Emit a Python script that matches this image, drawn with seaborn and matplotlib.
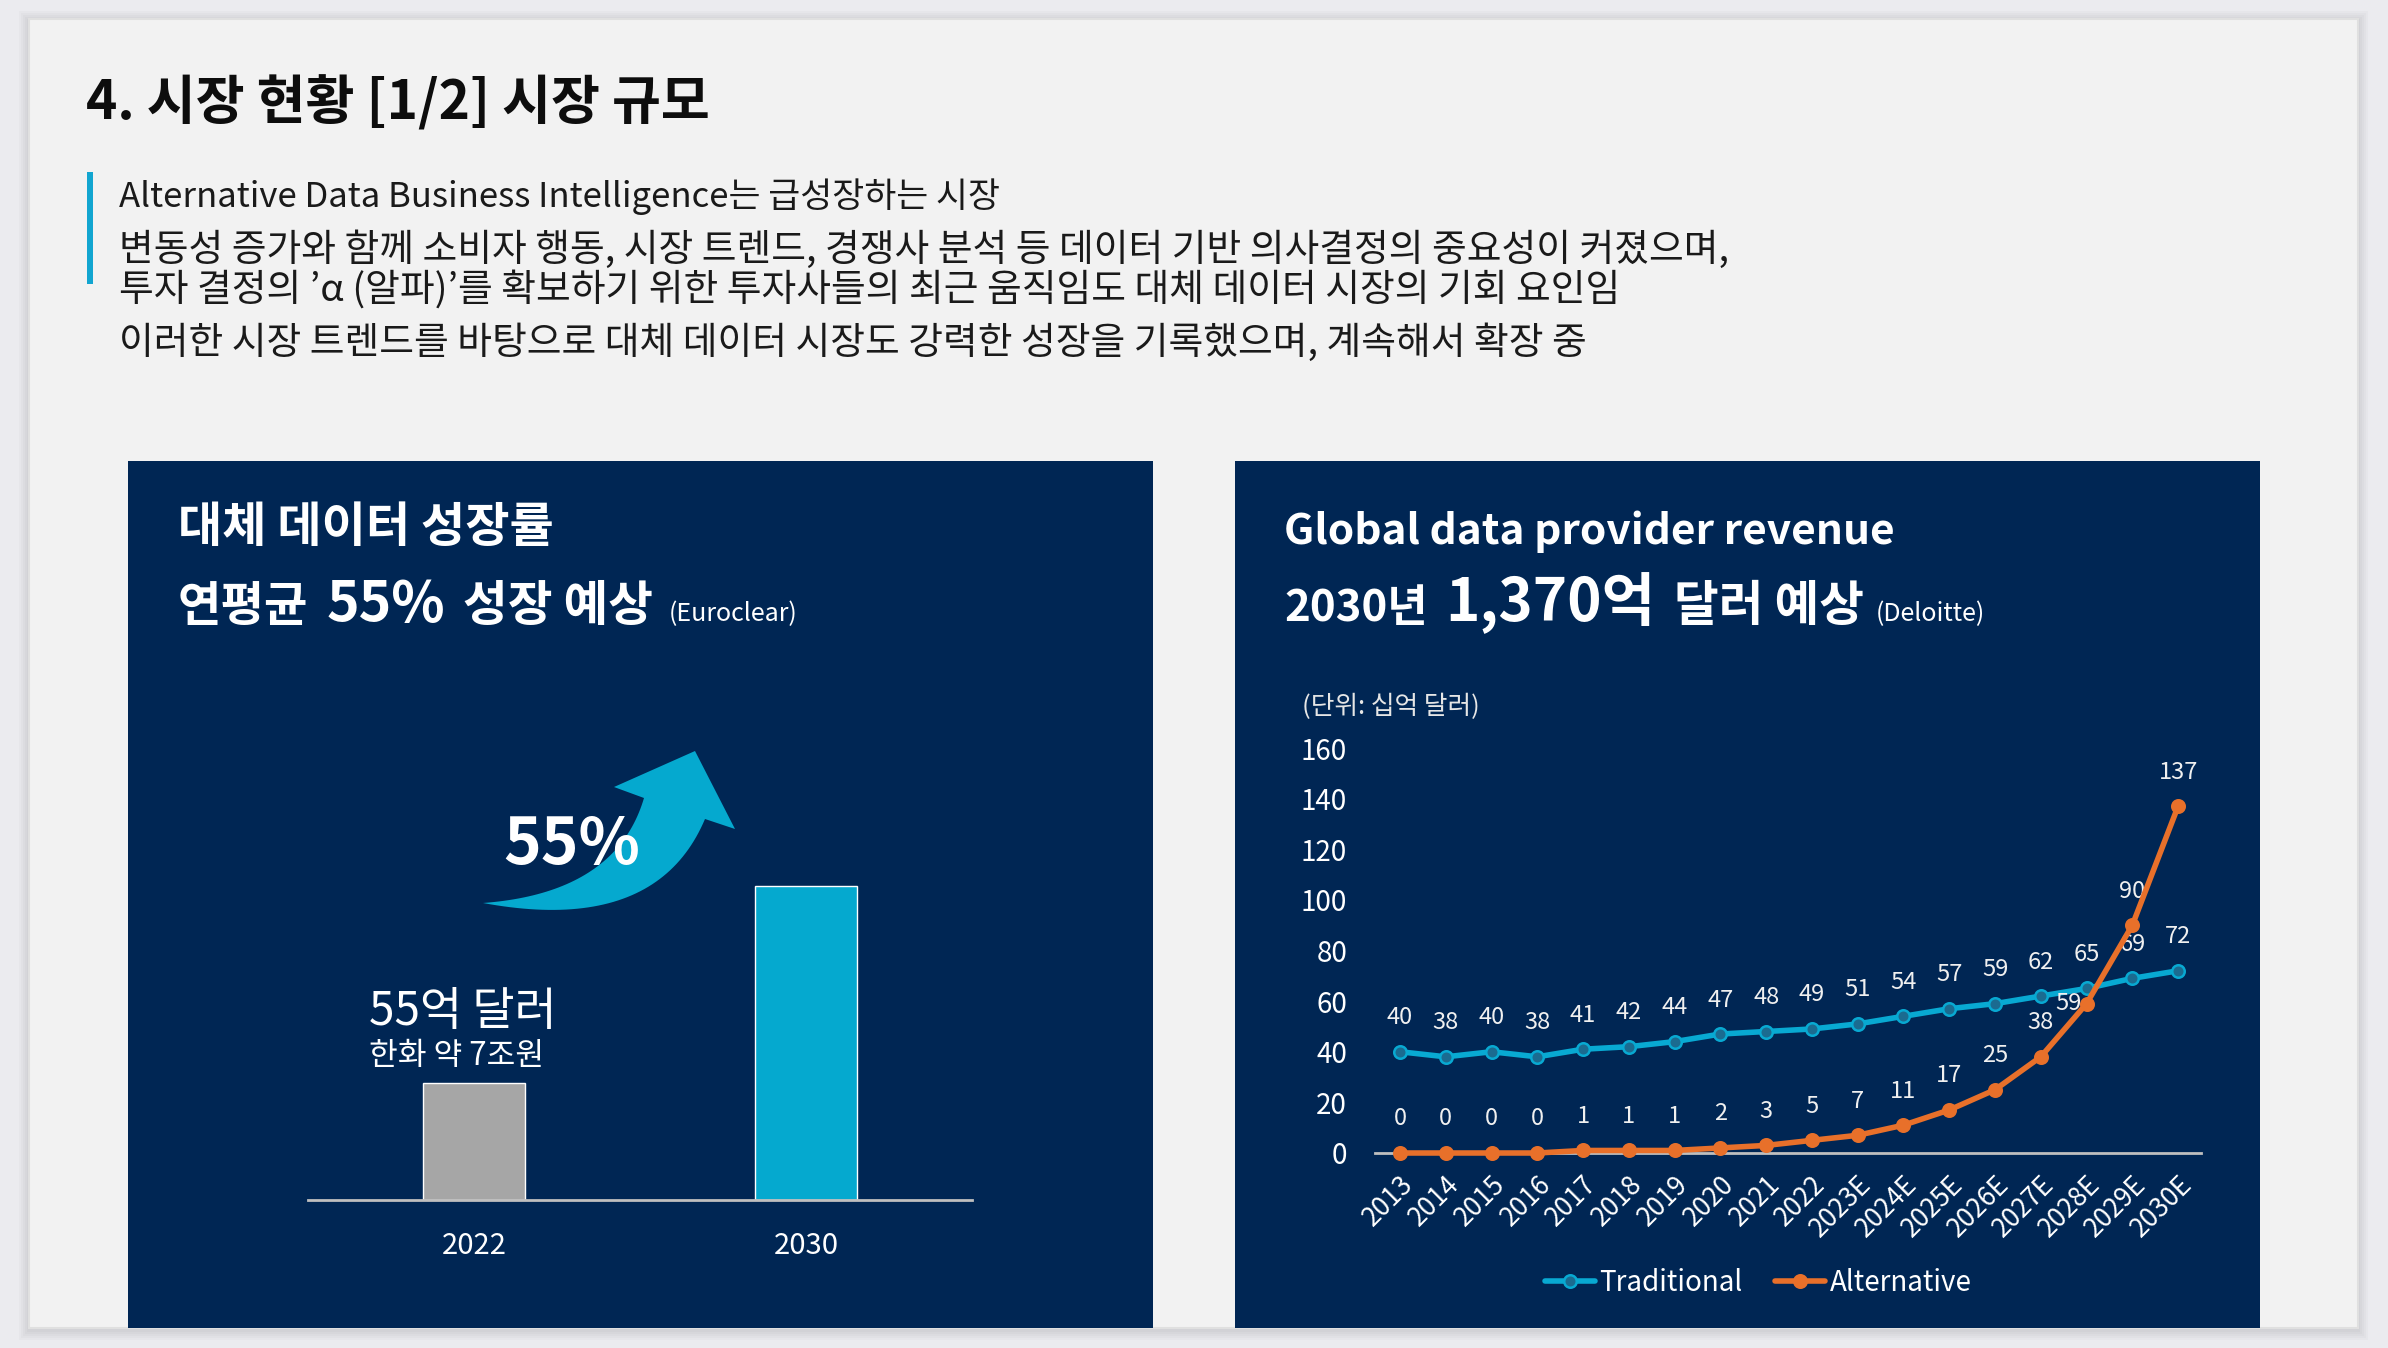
import numpy as np
import pandas as pd
import matplotlib
matplotlib.use("Agg")
import matplotlib.pyplot as plt
import seaborn as sns
from matplotlib.patches import Rectangle, Polygon

# ---------------- data ----------------
bar_years = ["2022", "2030"]
bar_values = [5.5, 14.8]

years = ["2013", "2014", "2015", "2016", "2017", "2018", "2019", "2020", "2021",
         "2022", "2023E", "2024E", "2025E", "2026E", "2027E", "2028E", "2029E", "2030E"]
traditional = [40, 38, 40, 38, 41, 42, 44, 47, 48, 49, 51, 54, 57, 59, 62, 65, 69, 72]
alternative = [0, 0, 0, 0, 1, 1, 1, 2, 3, 5, 7, 11, 17, 25, 38, 59, 90, 137]
y_ticks = [0, 20, 40, 60, 80, 100, 120, 140, 160]

body_lines = [
    "Alternative Data Business Intelligence는 급성장하는 시장",
    "변동성 증가와 함께 소비자 행동, 시장 트렌드, 경쟁사 분석 등 데이터 기반 의사결정의 중요성이 커졌으며,",
    "투자 결정의 ’α (알파)’를 확보하기 위한 투자사들의 최근 움직임도 대체 데이터 시장의 기회 요인임",
    "이러한 시장 트렌드를 바탕으로 대체 데이터 시장도 강력한 성장을 기록했으며, 계속해서 확장 중",
]

# ---------------- style ----------------
sns.set_theme(style="white")
plt.rcParams['font.family'] = ['Noto Sans CJK KR', 'DejaVu Sans']

NAVY = "#002654"
CYAN = "#08a9d2"
ORANGE = "#e8702a"
GRAY_BAR = "#a6a6a6"

W, H = 2388, 1348
fig = plt.figure(figsize=(W / 100, H / 100), dpi=100, facecolor="#ebebef")


def fx(x):
    return x / W


def fy(y):
    return 1 - y / H


def rect(x0, y0, x1, y1, **kw):
    r = Rectangle((fx(x0), fy(y1)), (x1 - x0) / W, (y1 - y0) / H,
                  transform=fig.transFigure, **kw)
    fig.add_artist(r)
    return r


# slide shadow + slide
for d in [2, 4, 6, 8, 10]:
    rect(29 - d, 19 - d + 2, 2358 + d, 1328 + d + 2, facecolor="black",
         edgecolor="none", alpha=0.018, zorder=-10)
rect(29, 19, 2358, 1328, facecolor="#f2f2f2", edgecolor="#e0e0e0", lw=1.5, zorder=-9)

# panels
rect(128, 461, 1153, 1328, facecolor=NAVY, edgecolor="none", zorder=-8)
rect(1235, 461, 2260, 1328, facecolor=NAVY, edgecolor="none", zorder=-8)

# title
fig.text(fx(86), fy(104), "4. 시장 현황 [1/2] 시장 규모", fontsize=38.3,
         weight="bold", va="center", color="#0d0d0d")

# accent bar + body text
rect(87, 172, 93, 284, facecolor="#12a5d0", edgecolor="none", zorder=-7)
for s, yc, fs in zip(body_lines, [197, 250, 290, 343], [25, 27.2, 27.2, 27.2]):
    fig.text(fx(119), fy(yc), s, fontsize=fs, va="center", color="#1a1a1a")

renderer = fig.canvas.get_renderer()


def seq_text(x0, ybase, pieces):
    x = x0
    for s, size, weight, gap in pieces:
        t = fig.text(fx(x), fy(ybase), s, fontsize=size, weight=weight,
                     color="white", va="baseline", ha="left")
        bb = t.get_window_extent(renderer)
        x = bb.x1 + gap


# left panel headings
fig.text(fx(178), fy(542), "대체 데이터 성장률", fontsize=34.6, weight="bold",
         color="white", va="baseline")
seq_text(178, 621, [("연평균", 34, "bold", 18), ("55%", 40, "bold", 18),
                    ("성장 예상", 35, "bold", 16), ("(Euroclear)", 18, "normal", 0)])

# right panel headings
fig.text(fx(1284), fy(544), "Global data provider revenue", fontsize=30.5,
         weight="bold", color="white", va="baseline")
seq_text(1284, 621, [("2030년", 31.5, "bold", 18), ("1,370억", 42, "bold", 18),
                     ("달러 예상", 35, "bold", 12), ("(Deloitte)", 18, "normal", 0)])

# curved arrow (decoration)


def qbez(p0, c, p2, n=50):
    t = np.linspace(0, 1, n)[:, None]
    p0, c, p2 = np.array(p0), np.array(c), np.array(p2)
    return (1 - t) ** 2 * p0 + 2 * (1 - t) * t * c + t ** 2 * p2


inner = qbez((483, 903), (616, 893), (644, 798))
outer = qbez((483, 903), (656, 935), (705, 819))
head = np.array([(614, 787), (695, 751), (735, 829)])
pts = np.vstack([inner, head, outer[::-1]])
pts_fig = np.column_stack([pts[:, 0] / W, 1 - pts[:, 1] / H])
fig.add_artist(Polygon(pts_fig, closed=True, transform=fig.transFigure,
                       facecolor="#05a9cf", edgecolor="none", zorder=1))

fig.text(fx(503), fy(864), "55%", fontsize=46, weight="bold", color="white",
         va="baseline", zorder=5)
fig.text(fx(369), fy(1025), "55억 달러", fontsize=33, color="white", va="baseline")
fig.text(fx(369), fy(1065), "한화 약 7조원", fontsize=22.5, color="white", va="baseline")

# ---------------- left bar chart ----------------
ax1 = fig.add_axes([308 / W, 1 - 1200 / H, 664 / W, 340 / H])
ax1.set_facecolor("none")
sns.barplot(x=bar_years, y=bar_values, hue=bar_years,
            palette=[GRAY_BAR, "#05a9cf"], width=0.31, saturation=1,
            legend=False, ax=ax1)
ax1.set_xlim(-0.5, 1.5)
ax1.set_ylim(0, 16)
for sp in ["top", "left", "right"]:
    ax1.spines[sp].set_visible(False)
ax1.spines["bottom"].set_color("#bfbfbf")
ax1.spines["bottom"].set_linewidth(2)
ax1.set_yticks([])
ax1.tick_params(axis="x", length=0, pad=22, labelsize=21, labelcolor="white")
ax1.set_xlabel("")
ax1.set_ylabel("")

# ---------------- right line chart ----------------
df = pd.DataFrame({"idx": np.arange(len(years)), "Traditional": traditional,
                   "Alternative": alternative})
ax2 = fig.add_axes([1375 / W, 1 - 1153 / H, 826 / W, 405 / H])
ax2.set_facecolor("none")
sns.lineplot(data=df, x="idx", y="Traditional", ax=ax2, color=CYAN, lw=4,
             marker="o", markersize=9, markerfacecolor="#1b6b90",
             markeredgecolor=CYAN, markeredgewidth=1.8, label="Traditional",
             clip_on=False, zorder=3)
sns.lineplot(data=df, x="idx", y="Alternative", ax=ax2, color=ORANGE, lw=4,
             marker="o", markersize=9, markerfacecolor=ORANGE,
             markeredgecolor=ORANGE, markeredgewidth=1.8, label="Alternative",
             clip_on=False, zorder=4)
ax2.set_xlim(-0.546, 17.5)
ax2.set_ylim(0, 160)
ax2.set_yticks(y_ticks)
ax2.set_xticks(np.arange(len(years)))
ax2.set_xticklabels(years, rotation=45, ha="right", va="top",
                    rotation_mode="anchor")
ax2.tick_params(axis="y", length=0, pad=20, labelsize=20, labelcolor="white")
ax2.tick_params(axis="x", length=0, pad=13, labelsize=19, labelcolor="white")
for sp in ["top", "left", "right"]:
    ax2.spines[sp].set_visible(False)
ax2.spines["bottom"].set_color("#bfbfbf")
ax2.spines["bottom"].set_linewidth(2)
ax2.grid(False)
ax2.set_xlabel("")
ax2.set_ylabel("")

for i, v in enumerate(traditional):
    ax2.annotate(str(v), (i, v), xytext=(0, 24.5), textcoords="offset points",
                 ha="center", va="center", fontsize=17, color="#f0f0f0")
for i, v in enumerate(alternative):
    off = (-13, 0) if i == 15 else (0, 24.5)
    ax2.annotate(str(v), (i, v), xytext=off, textcoords="offset points",
                 ha="center", va="center", fontsize=17, color="#f0f0f0")

ax2.legend(loc="center", bbox_to_anchor=(fx(1758), fy(1283)),
           bbox_transform=fig.transFigure, ncol=2, frameon=False, fontsize=20,
           labelcolor="white", handlelength=1.8, handletextpad=0.15,
           columnspacing=1.2)

fig.text(fx(1302), fy(707), "(단위: 십억 달러)", fontsize=18.5, color="#e6e6e6",
         va="center")

fig.savefig("out.png", dpi=100, facecolor=fig.get_facecolor())
